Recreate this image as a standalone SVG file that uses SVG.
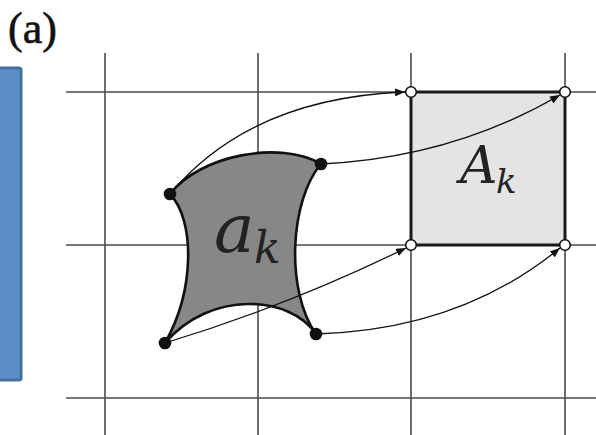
<svg xmlns="http://www.w3.org/2000/svg" width="596" height="435" viewBox="0 0 596 435">
<style>
.grid{stroke:#4a4a4a;stroke-width:1.6;fill:none}
.arrow{stroke:#111;stroke-width:1.3;fill:none;marker-end:url(#ah)}
.dot{fill:#111}
.hol{fill:#fff;stroke:#111;stroke-width:1.6}
.math{font-family:"DejaVu Serif","Liberation Serif",serif;font-style:italic;fill:#222}
</style>
<defs>
<marker id="ah" viewBox="0 0 10 8" refX="10" refY="4" markerWidth="10" markerHeight="8" markerUnits="userSpaceOnUse" orient="auto">
<path d="M0,0 L10,4 L0,8 z" fill="#111"/>
</marker>
</defs>
<rect width="596" height="435" fill="#fff"/>
<g id="panel-label"><text x="8" y="43" font-family="Liberation Serif, serif" font-size="44" fill="#111" stroke="#111" stroke-width="0.6">(a)</text></g>
<g id="blue-bar"><rect x="-4" y="68" width="25" height="312" rx="2" fill="#5b8ec7" stroke="#41719c" stroke-width="3"/></g>
<g id="grid">
<line class="grid" x1="66" y1="92" x2="596" y2="92"/>
<line class="grid" x1="66" y1="245" x2="596" y2="245"/>
<line class="grid" x1="66" y1="398" x2="596" y2="398"/>
<line class="grid" x1="105" y1="53" x2="105" y2="435"/>
<line class="grid" x1="258" y1="53" x2="258" y2="435"/>
<line class="grid" x1="411" y1="53" x2="411" y2="435"/>
<line class="grid" x1="565" y1="53" x2="565" y2="435"/>
</g>
<g id="Ak">
<rect x="411" y="92" width="154" height="153" fill="#e4e4e4" stroke="#1a1a1a" stroke-width="3"/>
<text class="math" x="460" y="183" font-size="52">A</text>
<text class="math" x="496" y="193" font-size="34">k</text>
</g>
<g id="ak">
<path d="M170,194 C200,155 280,140 321,164 C290,200 285,290 316,334 C290,295 210,290 165,343 C195,290 195,220 170,194 Z" fill="#878787" stroke="#111" stroke-width="2.6" stroke-linejoin="round"/>
<text class="math" x="214" y="252" font-size="68">a</text>
<text class="math" x="254" y="263" font-size="44">k</text>
</g>
<g id="connectors">
<path class="arrow" d="M170,194 Q250,98 405,92"/>
<path class="arrow" d="M321,164 Q452,158 560,95"/>
<path class="arrow" d="M165,343 Q290,305 406,248"/>
<path class="arrow" d="M316,334 Q460,330 560,248"/>
</g>
<g id="points">
<circle class="dot" cx="170" cy="194" r="6.3"/>
<circle class="dot" cx="321" cy="164" r="6.3"/>
<circle class="dot" cx="165" cy="343" r="6.3"/>
<circle class="dot" cx="316" cy="334" r="6.3"/>
<circle class="hol" cx="411" cy="92" r="5.3"/>
<circle class="hol" cx="565" cy="92" r="5.3"/>
<circle class="hol" cx="411" cy="245" r="5.3"/>
<circle class="hol" cx="565" cy="245" r="5.3"/>
</g>
</svg>
